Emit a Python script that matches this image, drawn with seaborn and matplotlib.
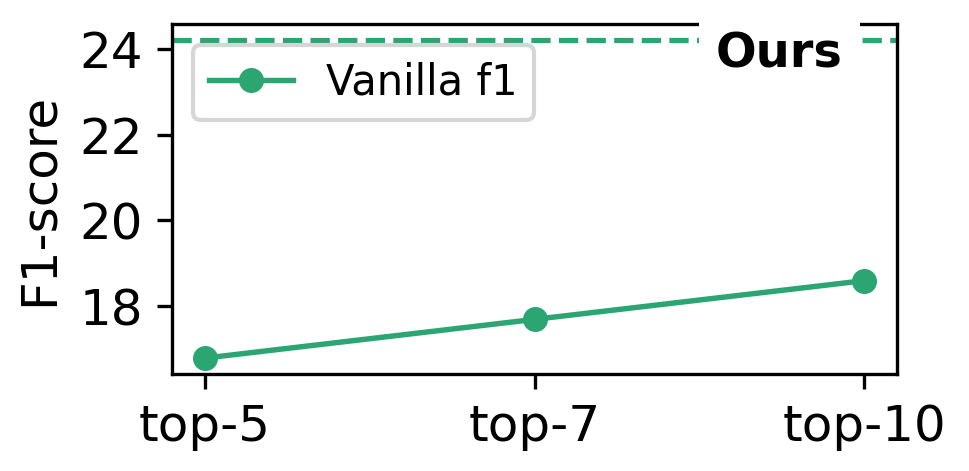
import numpy as np
import pandas as pd
import matplotlib
matplotlib.use("Agg")
import matplotlib.pyplot as plt
import seaborn as sns

topk = ["top-5", "top-7", "top-10"]
vanilla_f1 = [16.8, 17.7, 18.6]
ours_f1 = 24.2

verde = "#2ba673"

df = pd.DataFrame({"k": topk, "f1": vanilla_f1})

fig, ax = plt.subplots(figsize=(3.23, 1.57), dpi=300)
fig.subplots_adjust(left=0.1775, right=0.9257, top=0.949, bottom=0.206)

sns.lineplot(data=df, x="k", y="f1", marker="o", color=verde, linewidth=1.3,
             markersize=6, markeredgewidth=0, label="Vanilla f1", ax=ax, sort=False)
ax.axhline(ours_f1, color=verde, linewidth=1.25, linestyle="--")

ax.text(0.838, 0.915, "Ours", transform=ax.transAxes, ha="center", va="center",
        fontsize=11.5, fontweight="bold", zorder=5, clip_on=False,
        bbox=dict(boxstyle="square,pad=0.35", fc="white", ec="none"))

ax.set_xlabel("")
ax.set_ylabel("F1-score", fontsize=12)
ax.set_yticks([18, 20, 22, 24])
ax.tick_params(labelsize=12, width=0.8, length=3.5)
ax.legend(loc="upper left", fontsize=10)

plt.savefig("out.png", dpi=300)
